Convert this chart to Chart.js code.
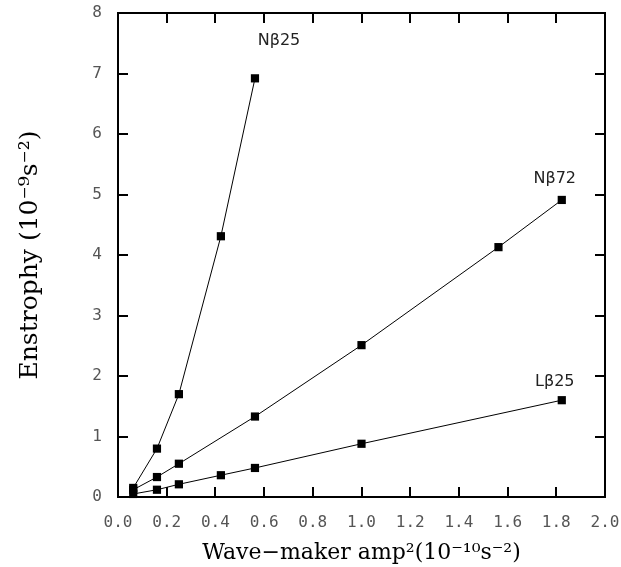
<!DOCTYPE html>
<html>
<head>
<meta charset="utf-8">
<script src="https://cdn.jsdelivr.net/npm/chart.js@4/dist/chart.umd.min.js"></script>
<style>
  html, body { margin: 0; padding: 0; background: #fff; }
  #wrap { width: 621px; height: 567px; }
</style>
</head>
<body>
<div id="wrap"><canvas id="c" width="621" height="567"></canvas></div>
<script>
// Wave-maker forcing (amp^2) and resulting enstrophy for three runs
const xNb25 = [0.0625, 0.16, 0.25, 0.4225, 0.5625];
const yNb25 = [0.15, 0.80, 1.70, 4.31, 6.92];

const xNb72 = [0.0625, 0.16, 0.25, 0.5625, 1.0, 1.5625, 1.8225];
const yNb72 = [0.12, 0.33, 0.55, 1.33, 2.51, 4.13, 4.91];

const xLb25 = [0.0625, 0.16, 0.25, 0.4225, 0.5625, 1.0, 1.8225];
const yLb25 = [0.05, 0.12, 0.21, 0.36, 0.48, 0.88, 1.60];

const seriesNames = ['Nβ25', 'Nβ72', 'Lβ25'];

const xTicks = [0.0, 0.2, 0.4, 0.6, 0.8, 1.0, 1.2, 1.4, 1.6, 1.8, 2.0];
const yTicks = [0, 1, 2, 3, 4, 5, 6, 7, 8];

const xTitle = 'Wave\u2212maker amp\u00B2(10\u207B\u00B9\u2070s\u207B\u00B2)';
const yTitle = 'Enstrophy (10\u207B\u2079s\u207B\u00B2)';

// label placement next to each curve's last point (dx, dy in px, text centre)
const labelOffsets = [[24, -37], [-7, -21], [-7, -18]];

const toPoints = (xs, ys) => xs.map((x, i) => ({ x: x, y: ys[i] }));

function lineSet(label, xs, ys) {
  return {
    label: label,
    data: toPoints(xs, ys),
    showLine: true,
    borderColor: '#000',
    borderWidth: 1,
    backgroundColor: '#000',
    pointStyle: 'rect',
    pointRadius: 5.8,
    pointHoverRadius: 5.8,
    pointBackgroundColor: '#000',
    pointBorderColor: '#000',
    pointBorderWidth: 0,
    tension: 0,
    clip: false
  };
}

// frame with inward ticks on all four sides
const framePlugin = {
  id: 'frame',
  afterDatasetsDraw(chart) {
    const { ctx, chartArea: a, scales } = chart;
    ctx.save();
    ctx.strokeStyle = '#000';
    ctx.lineWidth = 2;
    ctx.strokeRect(a.left, a.top, a.right - a.left, a.bottom - a.top);
    const len = 10;
    ctx.beginPath();
    xTicks.forEach(v => {
      const px = Math.round(scales.x.getPixelForValue(v));
      if (px <= a.left + 1 || px >= a.right - 1) return;
      ctx.moveTo(px, a.bottom); ctx.lineTo(px, a.bottom - len);
      ctx.moveTo(px, a.top); ctx.lineTo(px, a.top + len);
    });
    yTicks.forEach(v => {
      const py = Math.round(scales.y.getPixelForValue(v));
      if (py <= a.top + 1 || py >= a.bottom - 1) return;
      ctx.moveTo(a.left, py); ctx.lineTo(a.left + len, py);
      ctx.moveTo(a.right, py); ctx.lineTo(a.right - len, py);
    });
    ctx.stroke();

    // curve names beside the final point of each series
    ctx.font = '16px "DejaVu Sans", sans-serif';
    ctx.fillStyle = '#222';
    ctx.textAlign = 'center';
    ctx.textBaseline = 'middle';
    chart.data.datasets.forEach((ds, i) => {
      const meta = chart.getDatasetMeta(i);
      const last = meta.data[meta.data.length - 1];
      const off = labelOffsets[i];
      ctx.fillText(ds.label, last.x + off[0], last.y + off[1]);
    });
    ctx.restore();
  }
};

new Chart(document.getElementById('c'), {
  type: 'scatter',
  data: {
    datasets: [
      lineSet(seriesNames[0], xNb25, yNb25),
      lineSet(seriesNames[1], xNb72, yNb72),
      lineSet(seriesNames[2], xLb25, yLb25)
    ]
  },
  options: {
    responsive: false,
    devicePixelRatio: 1,
    animation: false,
    events: [],
    layout: { padding: { top: 13, right: 16, left: 0, bottom: 0 } },
    plugins: { legend: { display: false }, tooltip: { enabled: false } },
    scales: {
      x: {
        type: 'linear',
        min: 0, max: 2,
        afterBuildTicks: s => { s.ticks = xTicks.map(v => ({ value: v })); },
        afterFit: s => { s.height = 70; s.paddingLeft = 0; s.paddingRight = 0; },
        grid: { display: false, drawTicks: false },
        border: { display: false },
        ticks: {
          padding: 16,
          color: '#555',
          font: { family: '"DejaVu Sans Mono", monospace', size: 16 },
          maxRotation: 0,
          autoSkip: false,
          callback: v => Number(v).toFixed(1)
        },
        title: {
          display: true,
          text: xTitle,
          color: '#000',
          font: { family: '"DejaVu Serif", serif', size: 22 },
          padding: { top: 0, bottom: 1 }
        }
      },
      y: {
        type: 'linear',
        min: 0, max: 8,
        afterBuildTicks: s => { s.ticks = yTicks.map(v => ({ value: v })); },
        afterFit: s => { s.width = 118; s.paddingTop = 0; s.paddingBottom = 0; },
        grid: { display: false, drawTicks: false },
        border: { display: false },
        ticks: {
          padding: 16,
          color: '#555',
          font: { family: '"DejaVu Sans Mono", monospace', size: 16 },
          autoSkip: false,
          callback: v => String(v)
        },
        title: {
          display: true,
          text: yTitle,
          color: '#000',
          font: { family: '"DejaVu Serif", serif', size: 25 },
          padding: { top: 15, bottom: 0 }
        }
      }
    }
  },
  plugins: [framePlugin]
});
</script>
</body>
</html>
